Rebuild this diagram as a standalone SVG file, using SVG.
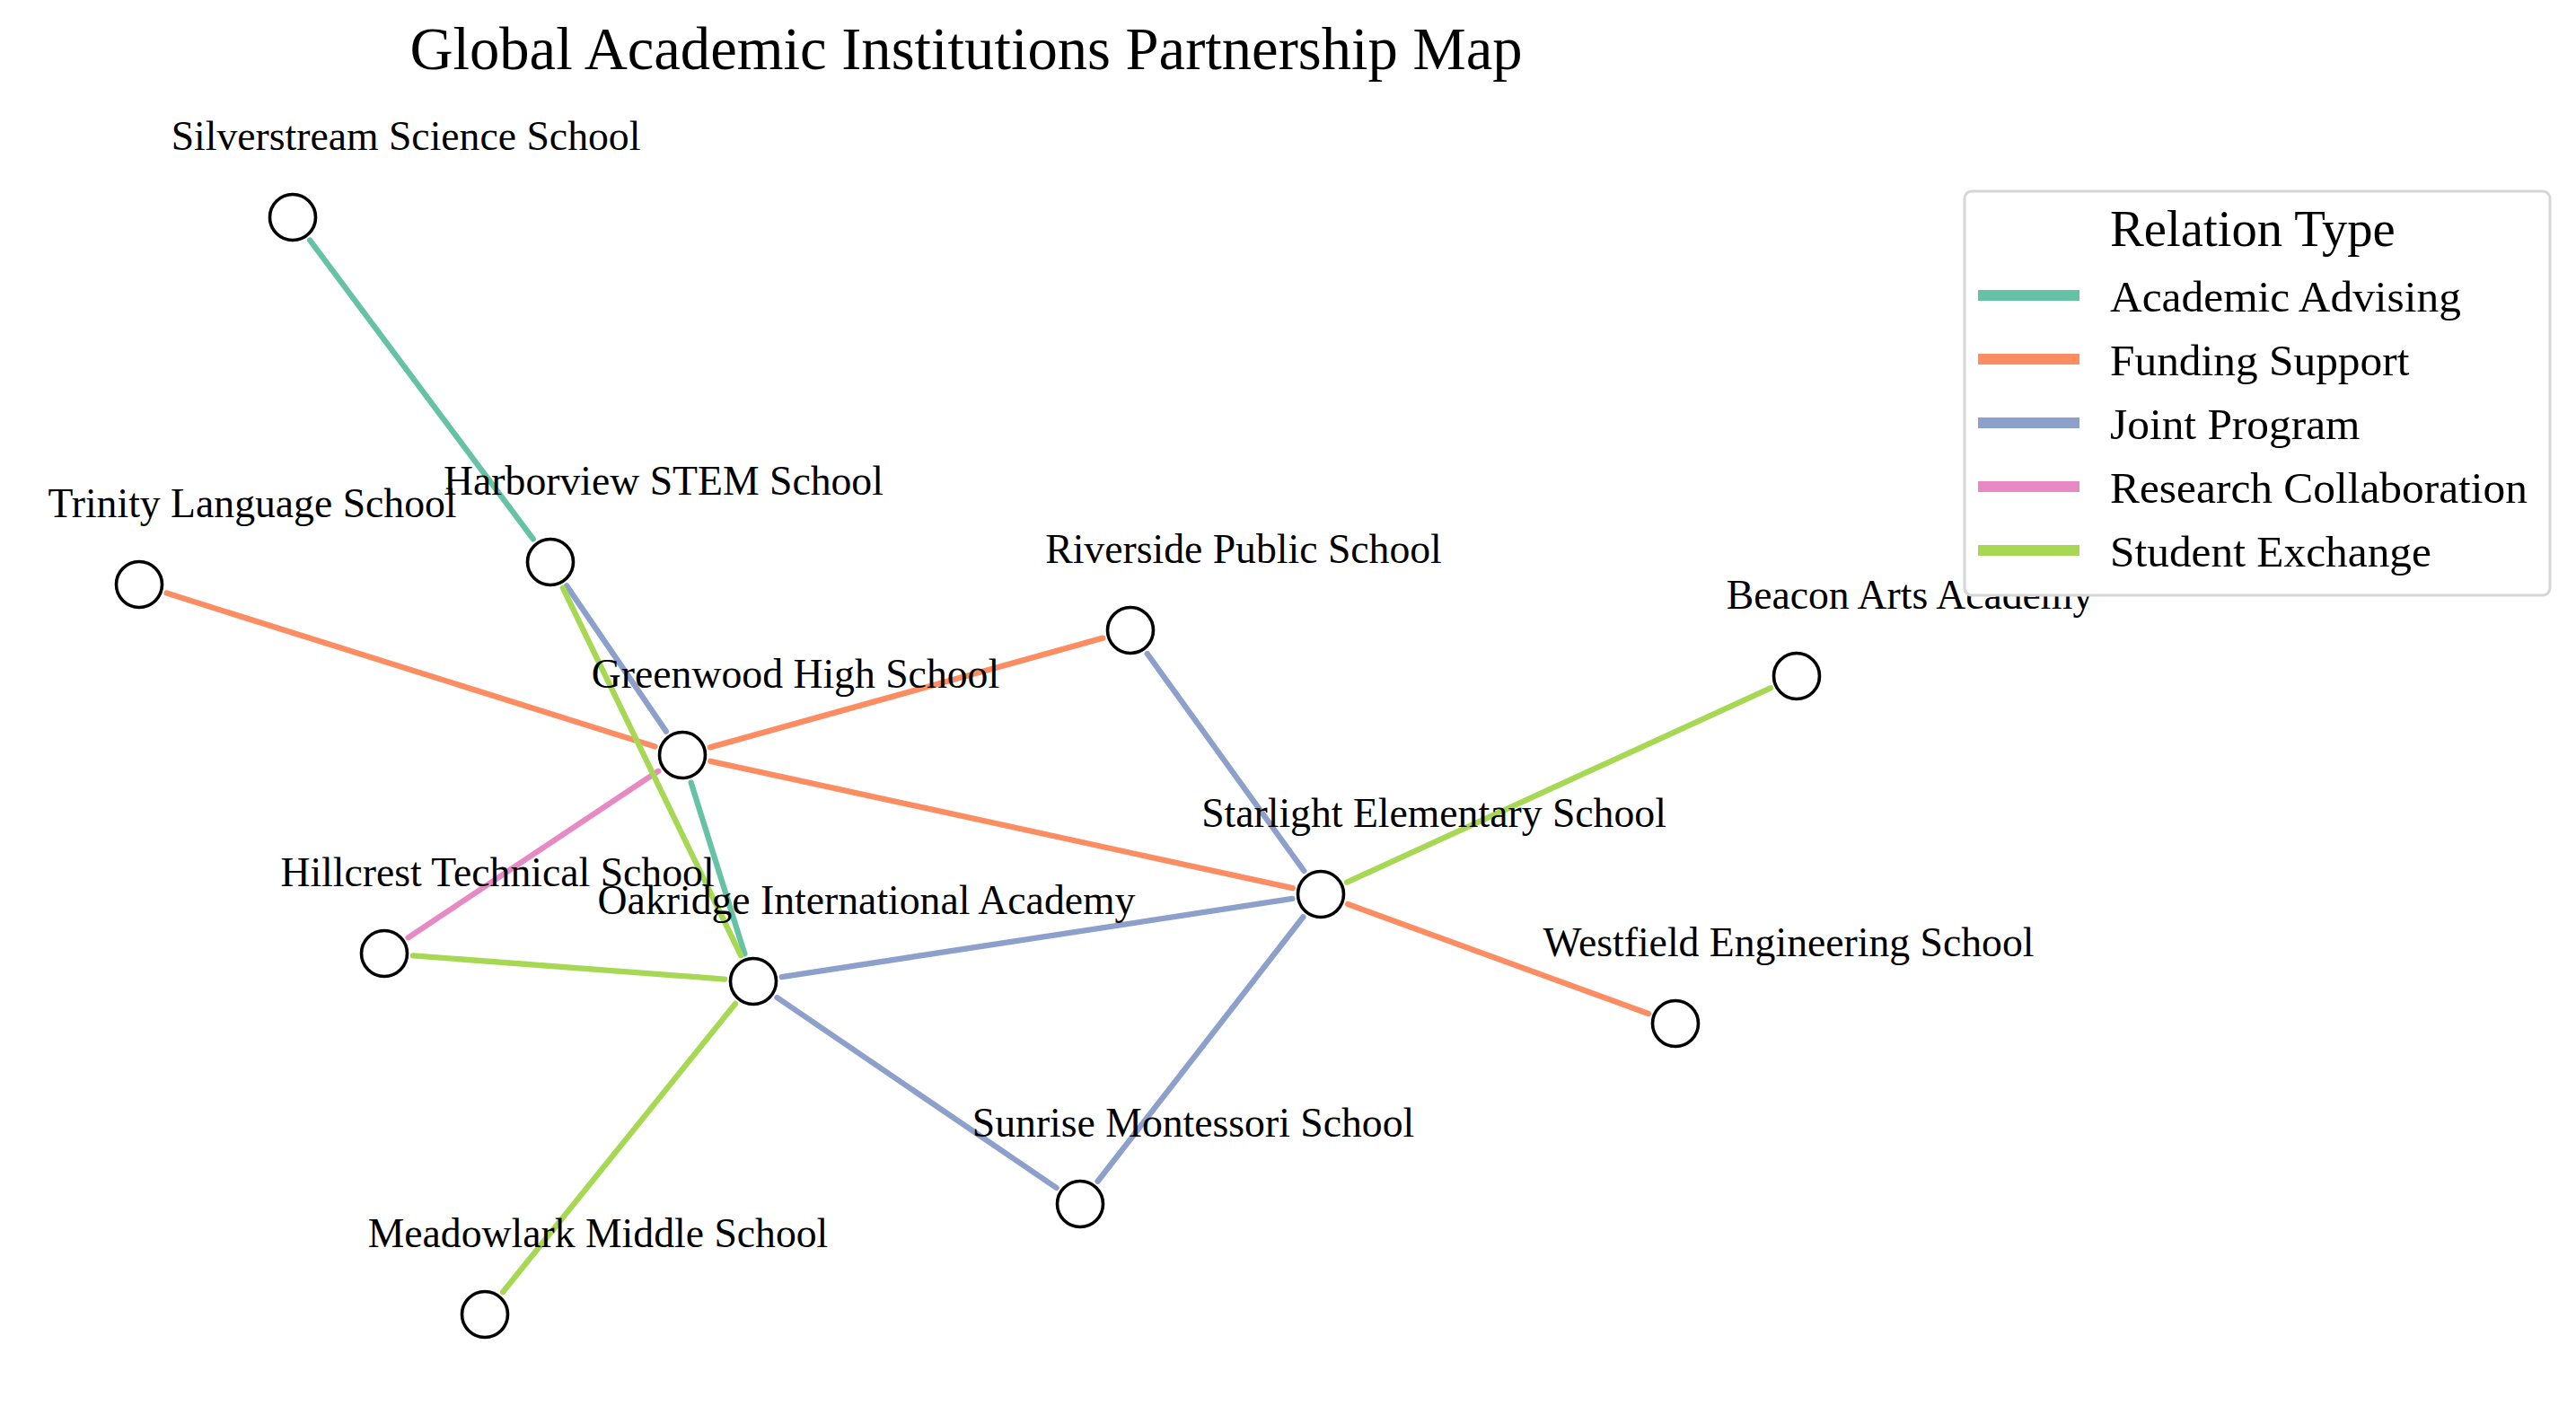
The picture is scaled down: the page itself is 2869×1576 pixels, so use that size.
<svg xmlns="http://www.w3.org/2000/svg" width="2869" height="1576" viewBox="0 0 2869 1576">
<style>
text { font-family: "Liberation Serif", "Times New Roman", serif; fill: #000; }
.title { font-size: 66.6px; text-anchor: middle; }
.lbl { font-size: 45.7px; text-anchor: middle; }
.leg { font-size: 49.4px; }
.legt { font-size: 56.7px; }
.e { fill: none; stroke-width: 6.3; stroke-linecap: round; }
.aa { stroke: #66c2a5; }
.fs { stroke: #fc8d62; }
.jp { stroke: #8da0cb; }
.rc { stroke: #e78ac3; }
.se { stroke: #a6d854; }
.n { fill: #fff; stroke: #000; stroke-width: 3.6; }
.ll { stroke-width: 12; fill: none; }
</style>
<rect width="2869" height="1576" fill="#fff"/>
<text class="title" x="1076" y="77">Global Academic Institutions Partnership Map</text>
<g id="connectors">
<line class="e aa" x1="345.2" y1="267.6" x2="593.8" y2="600.4"/>
<line class="e aa" x1="769.6" y1="871.5" x2="829.4" y2="1062.5"/>
<line class="e fs" x1="185.5" y1="660.6" x2="729.5" y2="831.4"/>
<line class="e fs" x1="790.8" y1="832.4" x2="1228.2" y2="710.6"/>
<line class="e fs" x1="791.3" y1="847.8" x2="1439.7" y2="989.2"/>
<line class="e fs" x1="1501.1" y1="1007.0" x2="1835.9" y2="1129.0"/>
<line class="e jp" x1="631.1" y1="652.4" x2="741.9" y2="814.6"/>
<line class="e jp" x1="1277.7" y1="728.0" x2="1452.3" y2="970.0"/>
<line class="e jp" x1="870.6" y1="1088.1" x2="1439.4" y2="1000.9"/>
<line class="e jp" x1="865.4" y1="1111.0" x2="1176.6" y2="1323.0"/>
<line class="e jp" x1="1222.6" y1="1315.7" x2="1451.4" y2="1021.3"/>
<line class="e rc" x1="733.4" y1="858.7" x2="454.6" y2="1044.3"/>
<line class="e se" x1="626.9" y1="654.8" x2="825.1" y2="1064.2"/>
<line class="e se" x1="459.9" y1="1064.4" x2="807.1" y2="1090.6"/>
<line class="e se" x1="818.9" y1="1117.9" x2="560.1" y2="1439.1"/>
<line class="e se" x1="1500.1" y1="982.7" x2="1971.9" y2="766.3"/>
</g>
<g id="silverstream"><circle class="n" cx="326" cy="242" r="25.5"/><text class="lbl" x="452" y="167">Silverstream Science School</text></g>
<g id="harborview"><circle class="n" cx="613" cy="626" r="25.5"/><text class="lbl" x="739" y="551">Harborview STEM School</text></g>
<g id="trinity"><circle class="n" cx="155" cy="651" r="25.5"/><text class="lbl" x="281" y="576">Trinity Language School</text></g>
<g id="greenwood"><circle class="n" cx="760" cy="841" r="25.5"/><text class="lbl" x="886" y="766">Greenwood High School</text></g>
<g id="riverside"><circle class="n" cx="1259" cy="702" r="25.5"/><text class="lbl" x="1385" y="627">Riverside Public School</text></g>
<g id="beacon"><circle class="n" cx="2001" cy="753" r="25.5"/><text class="lbl" x="2127" y="678">Beacon Arts Academy</text></g>
<g id="starlight"><circle class="n" cx="1471" cy="996" r="25.5"/><text class="lbl" x="1597" y="921">Starlight Elementary School</text></g>
<g id="hillcrest"><circle class="n" cx="428" cy="1062" r="25.5"/><text class="lbl" x="554" y="987">Hillcrest Technical School</text></g>
<g id="oakridge"><circle class="n" cx="839" cy="1093" r="25.5"/><text class="lbl" x="965" y="1018">Oakridge International Academy</text></g>
<g id="westfield"><circle class="n" cx="1866" cy="1140" r="25.5"/><text class="lbl" x="1992" y="1065">Westfield Engineering School</text></g>
<g id="sunrise"><circle class="n" cx="1203" cy="1341" r="25.5"/><text class="lbl" x="1329" y="1266">Sunrise Montessori School</text></g>
<g id="meadowlark"><circle class="n" cx="540" cy="1464" r="25.5"/><text class="lbl" x="666" y="1389">Meadowlark Middle School</text></g>
<g id="legend">
<rect x="2188" y="213" width="652" height="450" rx="8" fill="#fff" stroke="#d6d6d6" stroke-width="3"/>
<text class="legt" x="2350" y="274">Relation Type</text>
<line class="ll aa" x1="2203" y1="329" x2="2316" y2="329"/>
<text class="leg" x="2350" y="347">Academic Advising</text>
<line class="ll fs" x1="2203" y1="400" x2="2316" y2="400"/>
<text class="leg" x="2350" y="418">Funding Support</text>
<line class="ll jp" x1="2203" y1="471" x2="2316" y2="471"/>
<text class="leg" x="2350" y="489">Joint Program</text>
<line class="ll rc" x1="2203" y1="542" x2="2316" y2="542"/>
<text class="leg" x="2350" y="560">Research Collaboration</text>
<line class="ll se" x1="2203" y1="613" x2="2316" y2="613"/>
<text class="leg" x="2350" y="631">Student Exchange</text>
</g>
</svg>
